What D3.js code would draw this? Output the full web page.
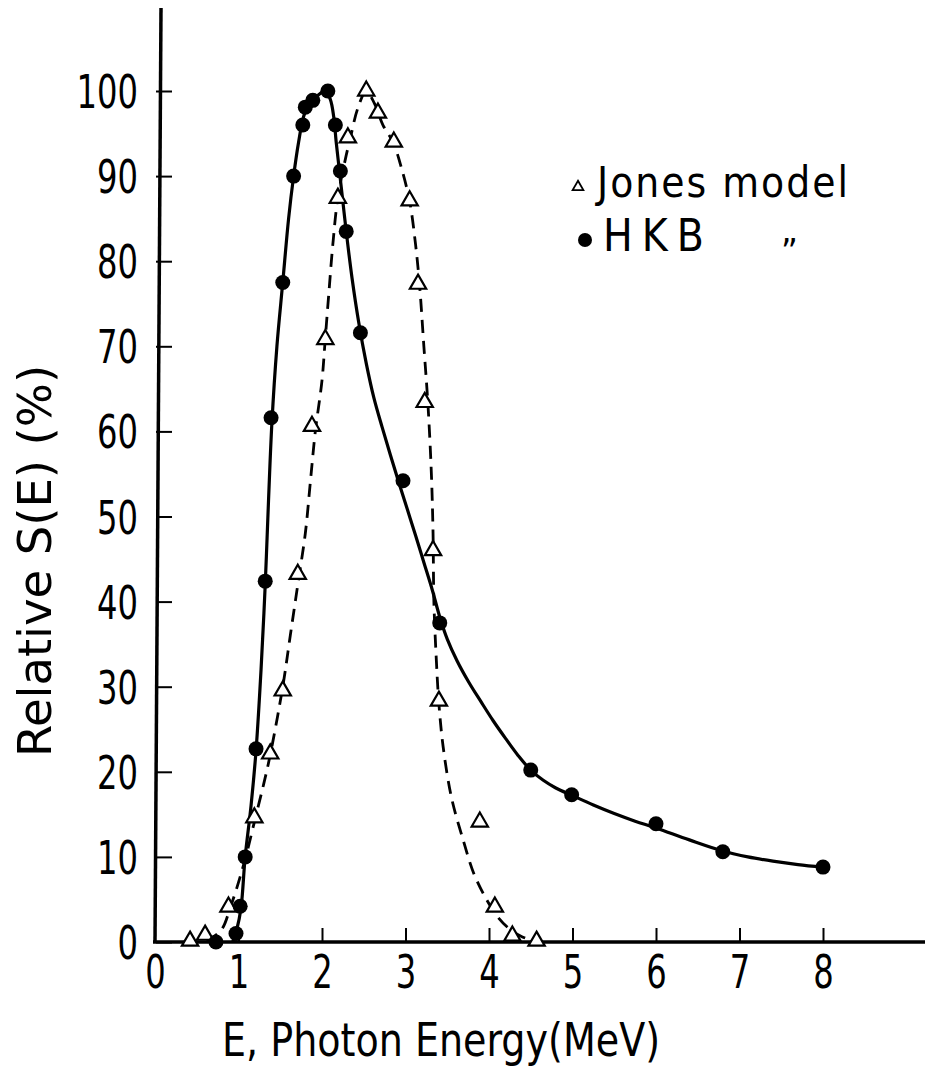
<!DOCTYPE html>
<html>
<head>
<meta charset="utf-8">
<script src="https://cdn.jsdelivr.net/npm/d3@7"></script>
<style>
  body { margin: 0; background: #fff; }
  text { font-family: "Liberation Sans Narrow", "DejaVu Sans Condensed", sans-serif; fill: #000; }
</style>
</head>
<body>
<div id="chart"></div>
<script>
// tick labels
const xTicks = [0, 1, 2, 3, 4, 5, 6, 7, 8];
const yTicks = [0, 10, 20, 30, 40, 50, 60, 70, 80, 90, 100];

// HKB points (filled circles)
const hkbE = [0.73, 0.97, 1.02, 1.08, 1.21, 1.32, 1.39, 1.53, 1.66, 1.77, 1.80, 1.89, 2.07, 2.16, 2.22, 2.29, 2.46, 2.97, 3.41, 4.50, 4.99, 6.00, 6.80, 8.00];
const hkbS = [0, 1, 4.2, 10, 22.7, 42.4, 61.6, 77.5, 90, 96, 98.1, 98.9, 100, 96, 90.6, 83.5, 71.6, 54.2, 37.5, 20.2, 17.3, 13.9, 10.6, 8.8];

// Jones model points (open triangles)
const jonesE = [0.42, 0.60, 0.88, 1.19, 1.38, 1.53, 1.71, 1.88, 2.04, 2.19, 2.31, 2.53, 2.67, 2.86, 3.05, 3.15, 3.23, 3.33, 3.40, 3.89, 4.07, 4.28, 4.57];
const jonesS = [0, 0.7, 4.0, 14.5, 22, 29.4, 43.1, 60.5, 70.7, 87.3, 94.4, 99.9, 97.3, 93.9, 87.0, 77.2, 63.3, 45.9, 28.2, 14.0, 4.0, 0.6, 0];

// hand drawn curves
const hkbCurveE = [0.93, 0.98, 1.03, 1.08, 1.15, 1.21, 1.27, 1.32, 1.36, 1.40, 1.46, 1.53, 1.60, 1.66, 1.72, 1.78, 1.86, 1.95, 2.04, 2.10, 2.14, 2.17, 2.21, 2.25, 2.29, 2.36, 2.44, 2.53, 2.62, 2.72, 2.82, 2.92, 3.02, 3.12, 3.22, 3.32, 3.41, 3.50, 3.62, 3.76, 3.90, 4.05, 4.20, 4.35, 4.50, 4.65, 4.80, 5.00, 5.25, 5.50, 5.75, 6.00, 6.40, 6.80, 7.10, 7.40, 7.70, 8.00];
const hkbCurveS = [0, 1.5, 4, 10, 16, 22.5, 32, 42, 52, 61, 70, 77.5, 85, 90, 94, 97, 98.8, 99.5, 100, 99, 97, 94, 90.5, 87, 83.5, 78, 72.8, 68, 64, 60.5, 57.2, 54, 50.9, 47.8, 44.6, 41.4, 38.2, 35.6, 33, 30.5, 28.3, 26, 23.9, 21.9, 20.2, 19, 18.1, 17.2, 16.1, 15.1, 14.2, 13.4, 12, 10.7, 10, 9.5, 9.1, 8.8];

const jonesCurveE = [0.62, 0.80, 0.90, 1.00, 1.10, 1.20, 1.30, 1.38, 1.53, 1.62, 1.71, 1.80, 1.86, 1.92, 2.00, 2.04, 2.08, 2.13, 2.19, 2.28, 2.34, 2.43, 2.53, 2.63, 2.73, 2.85, 2.95, 3.05, 3.12, 3.17, 3.22, 3.27, 3.31, 3.33, 3.34, 3.37, 3.40, 3.45, 3.55, 3.69, 3.82, 3.97, 4.10, 4.25, 4.40, 4.57];
const jonesCurveS = [0, 1.5, 4, 7, 10.5, 14.5, 18.5, 22, 30, 36, 42, 48, 54, 60, 66, 71, 76, 82, 87.5, 92, 94.5, 98, 100, 98.5, 96, 94, 91, 87, 82, 77, 70, 63, 55, 48, 40, 33, 28, 23, 17, 12, 8, 5, 3, 1.5, 0.6, 0];

const width = 925;
const height = 1074;
const fontSize = 46;
const digitWidth = 20.5;

const svg = d3.select("#chart")
  .append("svg")
  .attr("width", width)
  .attr("height", height);

const x = d3.scaleLinear().domain([0, 8]).range([155, 823]);
const y = d3.scaleLinear().domain([0, 100]).range([942, 91]);

// axis lines (run past the data range, as in the figure)
svg.append("line")
  .attr("x1", 161).attr("y1", 8)
  .attr("x2", 155).attr("y2", y(0) + 1)
  .attr("stroke", "#000").attr("stroke-width", 3.5);
svg.append("line")
  .attr("x1", 153).attr("y1", y(0))
  .attr("x2", width).attr("y2", y(0))
  .attr("stroke", "#000").attr("stroke-width", 3.5);

// y ticks point inwards
const yAxis = svg.append("g")
  .attr("transform", "translate(156,0)")
  .call(d3.axisLeft(y).tickValues(yTicks).tickSizeInner(-16).tickSizeOuter(0).tickPadding(18));
yAxis.select(".domain").remove();
yAxis.selectAll("line").attr("stroke", "#000").attr("stroke-width", 2);
yAxis.selectAll("text")
  .style("font-size", fontSize + "px")
  .attr("dy", "0.36em")
  .attr("textLength", d => String(d).length * digitWidth)
  .attr("lengthAdjust", "spacingAndGlyphs");

// x ticks point upwards
const xAxis = svg.append("g")
  .attr("transform", `translate(0,${y(0)})`)
  .call(d3.axisBottom(x).tickValues(xTicks).tickSizeInner(-14).tickSizeOuter(0).tickPadding(10));
xAxis.select(".domain").remove();
xAxis.selectAll("line").attr("stroke", "#000").attr("stroke-width", 2);
xAxis.selectAll("line").filter(d => d === 0).remove();
xAxis.selectAll("text")
  .style("font-size", fontSize + "px")
  .attr("dy", "0.78em")
  .attr("textLength", digitWidth)
  .attr("lengthAdjust", "spacingAndGlyphs");

// axis titles
svg.append("text")
  .attr("x", 441)
  .attr("y", 1056)
  .attr("text-anchor", "middle")
  .style("font-size", "47px")
  .attr("textLength", 438)
  .attr("lengthAdjust", "spacingAndGlyphs")
  .text("E, Photon Energy(MeV)");

svg.append("text")
  .attr("transform", "translate(51,561) rotate(-90)")
  .attr("text-anchor", "middle")
  .style("font-size", "47px")
  .attr("textLength", 392)
  .attr("lengthAdjust", "spacingAndGlyphs")
  .text("Relative S(E) (%)");

// curves
const line = d3.line()
  .x(d => x(d[0]))
  .y(d => y(d[1]))
  .curve(d3.curveCatmullRom.alpha(0.5));

svg.append("path")
  .datum(jonesCurveE.map((e, i) => [e, jonesCurveS[i]]))
  .attr("d", line)
  .attr("fill", "none")
  .attr("stroke", "#000")
  .attr("stroke-width", 2.8)
  .attr("stroke-dasharray", "13,8");

svg.append("path")
  .datum(hkbCurveE.map((e, i) => [e, hkbCurveS[i]]))
  .attr("d", line)
  .attr("fill", "none")
  .attr("stroke", "#000")
  .attr("stroke-width", 3.2);

// markers
const tri = d3.symbol().type(d3.symbolTriangle).size(115);

svg.selectAll(".jones")
  .data(jonesE.map((e, i) => [e, jonesS[i]]))
  .enter()
  .append("path")
  .attr("class", "jones")
  .attr("d", tri)
  .attr("transform", d => `translate(${x(d[0])},${y(d[1]) - 1})`)
  .attr("fill", "#fff")
  .attr("stroke", "#000")
  .attr("stroke-width", 2.2);

svg.selectAll(".hkb")
  .data(hkbE.map((e, i) => [e, hkbS[i]]))
  .enter()
  .append("circle")
  .attr("class", "hkb")
  .attr("cx", d => x(d[0]))
  .attr("cy", d => y(d[1]))
  .attr("r", 7.5)
  .attr("fill", "#000");

// legend
svg.append("path")
  .attr("d", d3.symbol().type(d3.symbolTriangle).size(50))
  .attr("transform", "translate(578,187)")
  .attr("fill", "#fff")
  .attr("stroke", "#000")
  .attr("stroke-width", 1.8);
svg.append("text")
  .attr("x", 597)
  .attr("y", 197)
  .style("font-size", "42px")
  .attr("textLength", 251)
  .attr("lengthAdjust", "spacing")
  .text("Jones  model");

svg.append("circle")
  .attr("cx", 585)
  .attr("cy", 240)
  .attr("r", 7)
  .attr("fill", "#000");
svg.append("text")
  .attr("x", 603)
  .attr("y", 251)
  .style("font-size", "44px")
  .style("letter-spacing", "9px")
  .text("HKB");
svg.append("text")
  .attr("x", 781)
  .attr("y", 264)
  .style("font-size", "36px")
  .text("\u201D");
</script>
</body>
</html>
